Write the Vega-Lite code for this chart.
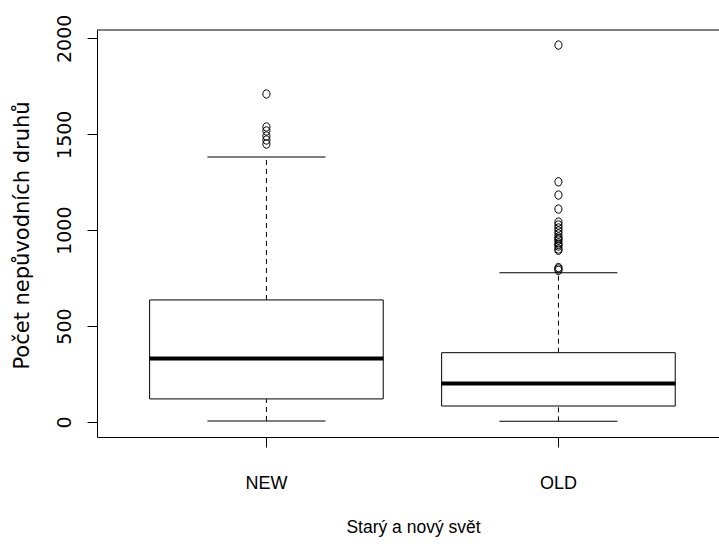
{
  "$schema": "https://vega.github.io/schema/vega-lite/v6.json",
  "autosize": "none",
  "width": 622,
  "height": 407,
  "padding": {"left": 97, "top": 30, "right": 0, "bottom": 112},
  "background": "white",
  "config": {
    "view": {"stroke": null},
    "axisY": {
      "domainColor": "black", "tickColor": "black", "labelColor": "black", "titleColor": "black",
      "grid": false, "tickSize": 10, "domainWidth": 1, "tickWidth": 1,
      "labelAngle": 270, "labelAlign": "center", "labelBaseline": "alphabetic", "labelPadding": 17,
      "labelFont": "DejaVu Sans", "labelFontSize": 19, "labelFlush": false, "labelOverlap": false,
      "titleFont": "DejaVu Sans", "titleFontSize": 21, "titleFontWeight": "normal",
      "titleAngle": 270, "titleBaseline": "alphabetic", "titleAlign": "center", "titleX": -69, "titleY": 205
    },
    "axisX": {
      "domainColor": "black", "tickColor": "black", "labelColor": "black", "titleColor": "black",
      "grid": false, "tickSize": 10, "domainWidth": 1, "tickWidth": 1,
      "labelAngle": 0, "labelBaseline": "alphabetic", "labelPadding": 41,
      "labelFont": "Liberation Sans", "labelFontSize": 18,
      "titleFont": "Liberation Sans", "titleFontSize": 17.5, "titleFontWeight": "normal",
      "titleBaseline": "alphabetic", "titleAlign": "center", "titleX": 316, "titleY": 95
    }
  },
  "datasets": {
    "boxes": [
      {"world": "NEW", "lower": 5, "q1": 120, "median": 331, "q3": 636, "upper": 1381},
      {"world": "OLD", "lower": 3, "q1": 83, "median": 201, "q3": 361, "upper": 778}
    ],
    "outliers": [
      {"world": "NEW", "value": 1710},
      {"world": "NEW", "value": 1538},
      {"world": "NEW", "value": 1517},
      {"world": "NEW", "value": 1491},
      {"world": "NEW", "value": 1470},
      {"world": "NEW", "value": 1449},
      {"world": "OLD", "value": 1965},
      {"world": "OLD", "value": 1252},
      {"world": "OLD", "value": 1183},
      {"world": "OLD", "value": 1110},
      {"world": "OLD", "value": 1042},
      {"world": "OLD", "value": 1027},
      {"world": "OLD", "value": 1011},
      {"world": "OLD", "value": 996},
      {"world": "OLD", "value": 980},
      {"world": "OLD", "value": 964},
      {"world": "OLD", "value": 955},
      {"world": "OLD", "value": 948},
      {"world": "OLD", "value": 933},
      {"world": "OLD", "value": 925},
      {"world": "OLD", "value": 917},
      {"world": "OLD", "value": 902},
      {"world": "OLD", "value": 895},
      {"world": "OLD", "value": 805},
      {"world": "OLD", "value": 798},
      {"world": "OLD", "value": 790}
    ]
  },
  "layer": [
    {
      "data": {"name": "boxes"},
      "mark": {"type": "rule", "color": "black", "strokeWidth": 1, "strokeDash": [5, 4]},
      "encoding": {
        "x": {"field": "world", "type": "nominal", "title": "Starý a nový svět",
              "scale": {"domain": ["NEW", "OLD"], "paddingInner": 0.2, "paddingOuter": 0.165, "align": 0.546, "round": false}},
        "y": {"field": "lower", "type": "quantitative", "title": "Počet nepůvodních druhů",
              "axis": {"values": [0, 500, 1000, 1500, 2000], "format": "d"},
              "scale": {"domain": [-78.6, 2043.6], "nice": false, "zero": false}},
        "y2": {"field": "q1"}
      }
    },
    {
      "data": {"name": "boxes"},
      "mark": {"type": "rule", "color": "black", "strokeWidth": 1, "strokeDash": [5, 4]},
      "encoding": {
        "x": {"field": "world", "type": "nominal", "title": "Starý a nový svět"},
        "y": {"field": "q3", "type": "quantitative", "title": "Počet nepůvodních druhů",
              "axis": {"values": [0, 500, 1000, 1500, 2000], "format": "d"}},
        "y2": {"field": "upper"}
      }
    },
    {
      "data": {"name": "boxes"},
      "mark": {"type": "bar", "fill": "white", "stroke": "black", "strokeWidth": 1},
      "encoding": {
        "x": {"field": "world", "type": "nominal", "title": "Starý a nový svět"},
        "y": {"field": "q1", "type": "quantitative", "title": "Počet nepůvodních druhů",
              "axis": {"values": [0, 500, 1000, 1500, 2000], "format": "d"}},
        "y2": {"field": "q3"}
      }
    },
    {
      "data": {"name": "boxes"},
      "mark": {"type": "tick", "color": "black", "size": 234, "thickness": 4, "opacity": 1},
      "encoding": {
        "x": {"field": "world", "type": "nominal", "title": "Starý a nový svět"},
        "y": {"field": "median", "type": "quantitative", "title": "Počet nepůvodních druhů",
              "axis": {"values": [0, 500, 1000, 1500, 2000], "format": "d"}}
      }
    },
    {
      "data": {"name": "boxes"},
      "mark": {"type": "tick", "color": "black", "size": 118, "thickness": 1, "opacity": 1},
      "encoding": {
        "x": {"field": "world", "type": "nominal", "title": "Starý a nový svět"},
        "y": {"field": "lower", "type": "quantitative", "title": "Počet nepůvodních druhů",
              "axis": {"values": [0, 500, 1000, 1500, 2000], "format": "d"}}
      }
    },
    {
      "data": {"name": "boxes"},
      "mark": {"type": "tick", "color": "black", "size": 118, "thickness": 1, "opacity": 1},
      "encoding": {
        "x": {"field": "world", "type": "nominal", "title": "Starý a nový svět"},
        "y": {"field": "upper", "type": "quantitative", "title": "Počet nepůvodních druhů",
              "axis": {"values": [0, 500, 1000, 1500, 2000], "format": "d"}}
      }
    },
    {
      "data": {"name": "outliers"},
      "mark": {"type": "point", "shape": "M-0.85,0A0.85,1,0,1,1,0.85,0A0.85,1,0,1,1,-0.85,0Z", "size": 70, "filled": false, "stroke": "black", "strokeWidth": 1, "opacity": 1},
      "encoding": {
        "x": {"field": "world", "type": "nominal", "title": "Starý a nový svět"},
        "y": {"field": "value", "type": "quantitative", "title": "Počet nepůvodních druhů",
              "axis": {"values": [0, 500, 1000, 1500, 2000], "format": "d"}}
      }
    },
    {
      "data": {"values": [{"edge": "top"}]},
      "mark": {"type": "rule", "color": "black", "strokeWidth": 1},
      "encoding": {
        "y": {"datum": 2043.6, "type": "quantitative"}
      }
    }
  ]
}
